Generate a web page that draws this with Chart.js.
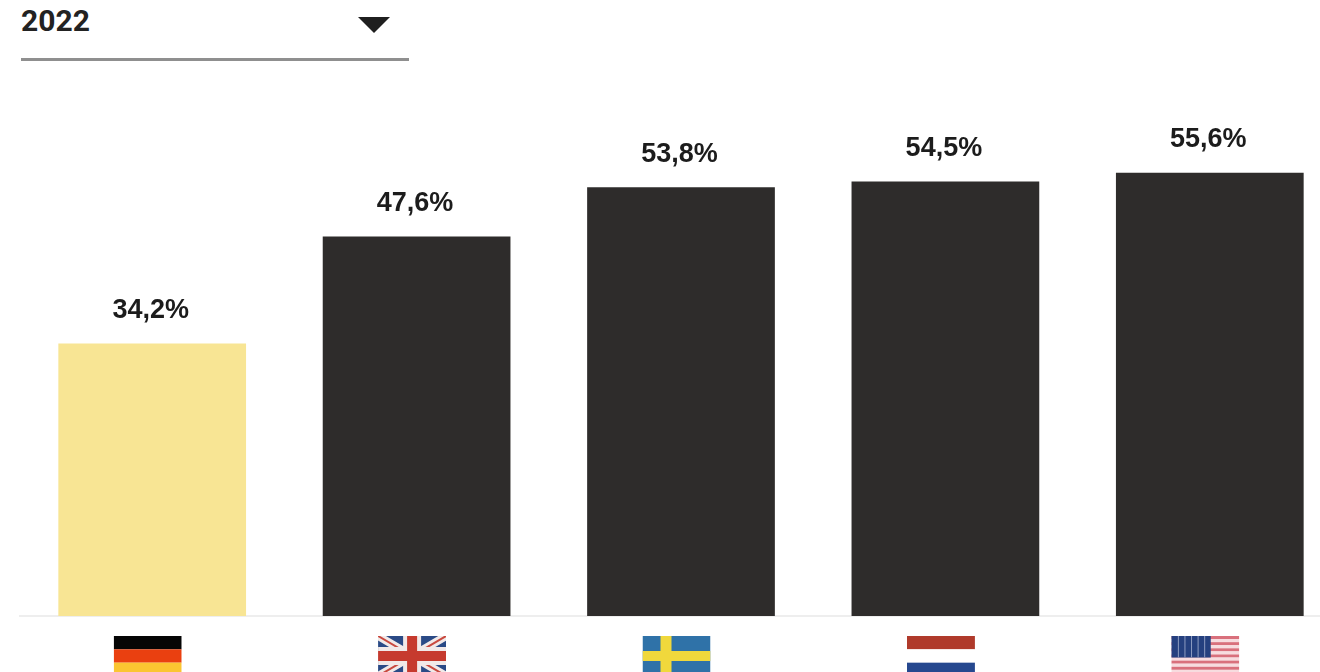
<!DOCTYPE html>
<html>
<head>
    <title>2022</title>
    <script src="https://cdn.jsdelivr.net/npm/chart.js"></script>
    <style>
        html, body {
            margin: 0;
            width: 1320px;
            height: 672px;
            overflow: hidden;
            background-color: #ffffff;
            font-family: Roboto, Arial, sans-serif;
        }
        #wrap {
            position: relative;
            width: 1320px;
            height: 672px;
            overflow: hidden;
        }
        canvas {
            position: absolute;
            left: 0;
            top: 0;
        }
        #year {
            position: absolute;
            left: 21px;
            top: 3px;
            font-size: 30px;
            line-height: 36px;
            font-weight: 700;
            color: #222222;
        }
        #arrow {
            position: absolute;
            left: 358px;
            top: 17px;
            width: 0;
            height: 0;
            border-left: 16px solid transparent;
            border-right: 16px solid transparent;
            border-top: 16px solid #1f1f1f;
        }
        #line {
            position: absolute;
            left: 21px;
            top: 58px;
            width: 388px;
            height: 3px;
            background-color: #8f8f8f;
        }
    </style>
</head>
<body>
    <div id="wrap">
        <div id="year">2022</div>
        <div id="arrow"></div>
        <div id="line"></div>
        <canvas id="chart" width="1342" height="672"></canvas>
    </div>

    <script>
        // Data
        const countries = ['Deutschland', 'Großbritannien', 'Schweden', 'Niederlande', 'USA'];
        const shares = [34.2, 47.6, 53.8, 54.5, 55.6];
        const flags = ['de', 'uk', 'se', 'nl', 'us'];
        const barColors = ['#f8e594', '#2e2c2b', '#2e2c2b', '#2e2c2b', '#2e2c2b'];

        function drawFlag(ctx, code, x, y, w, h) {
            ctx.save();
            ctx.beginPath();
            ctx.rect(x, y, w, h);
            ctx.clip();
            if (code === 'de') {
                ctx.fillStyle = '#050505';
                ctx.fillRect(x, y, w, h / 3);
                ctx.fillStyle = '#ea4010';
                ctx.fillRect(x, y + h / 3, w, h / 3);
                ctx.fillStyle = '#fbc531';
                ctx.fillRect(x, y + 2 * h / 3, w, h / 3);
            } else if (code === 'uk') {
                ctx.fillStyle = '#2a4a86';
                ctx.fillRect(x, y, w, h);
                ctx.strokeStyle = '#f1e9e8';
                ctx.lineWidth = 8;
                ctx.beginPath();
                ctx.moveTo(x, y);
                ctx.lineTo(x + w, y + h);
                ctx.moveTo(x + w, y);
                ctx.lineTo(x, y + h);
                ctx.stroke();
                ctx.strokeStyle = '#c9493f';
                ctx.lineWidth = 2;
                ctx.stroke();
                ctx.fillStyle = '#f1e9e8';
                ctx.fillRect(x + w / 2 - 9, y, 18, h);
                ctx.fillRect(x, y + h / 2 - 9, w, 18);
                ctx.fillStyle = '#c63a2e';
                ctx.fillRect(x + w / 2 - 5, y, 10, h);
                ctx.fillRect(x, y + h / 2 - 5, w, 10);
            } else if (code === 'se') {
                ctx.fillStyle = '#2f72a8';
                ctx.fillRect(x, y, w, h);
                ctx.fillStyle = '#f0d83c';
                ctx.fillRect(x + 18, y, 11, h);
                ctx.fillRect(x, y + h / 2 - 5, w, 10);
            } else if (code === 'nl') {
                ctx.fillStyle = '#b03a2b';
                ctx.fillRect(x, y, w, h / 3);
                ctx.fillStyle = '#ffffff';
                ctx.fillRect(x, y + h / 3, w, h / 3);
                ctx.fillStyle = '#26488f';
                ctx.fillRect(x, y + 2 * h / 3, w, h / 3);
            } else if (code === 'us') {
                const stripe = h / 13;
                for (let i = 0; i < 13; i++) {
                    ctx.fillStyle = i % 2 === 0 ? '#d9707c' : '#f7dcdf';
                    ctx.fillRect(x, y + i * stripe, w, stripe);
                }
                ctx.fillStyle = '#25407f';
                ctx.fillRect(x, y, w * 0.58, stripe * 7);
                ctx.fillStyle = '#8d9bc0';
                for (let i = 1; i < 6; i++) {
                    ctx.fillRect(x + i * w * 0.58 / 6, y, 1, stripe * 7);
                }
            }
            ctx.restore();
        }

        // Value labels above the bars and flags below the axis
        const extras = {
            id: 'extras',
            afterDraw(chart) {
                const ctx = chart.ctx;
                const meta = chart.getDatasetMeta(0);
                const xScale = chart.scales.x;
                ctx.save();
                ctx.font = '700 27px "Liberation Sans", Arial, sans-serif';
                ctx.fillStyle = '#1c1c1c';
                ctx.textAlign = 'center';
                ctx.textBaseline = 'middle';
                meta.data.forEach((bar, i) => {
                    const text = shares[i].toFixed(1).replace('.', ',') + '%';
                    ctx.fillText(text, bar.x - 1.5, bar.y - 33);
                });
                ctx.restore();
                flags.forEach((code, i) => {
                    const cx = xScale.getPixelForTick(i) - 4.5;
                    drawFlag(ctx, code, cx - 34, chart.chartArea.bottom + 20, 68, 40);
                });
            }
        };

        const ctx = document.getElementById('chart').getContext('2d');
        new Chart(ctx, {
            type: 'bar',
            data: {
                labels: countries,
                datasets: [{
                    data: shares,
                    backgroundColor: barColors,
                    barPercentage: 0.71,
                    categoryPercentage: 1
                }]
            },
            options: {
                responsive: false,
                animation: false,
                layout: {
                    padding: { left: 20, right: 0, top: 58, bottom: 48 }
                },
                plugins: {
                    legend: { display: false },
                    tooltip: { enabled: false }
                },
                scales: {
                    x: {
                        grid: { display: false },
                        border: { color: '#eeeeee', width: 2 },
                        ticks: { display: false }
                    },
                    y: {
                        display: false,
                        min: 0,
                        max: 70
                    }
                }
            },
            plugins: [extras]
        });
    </script>
</body>
</html>
